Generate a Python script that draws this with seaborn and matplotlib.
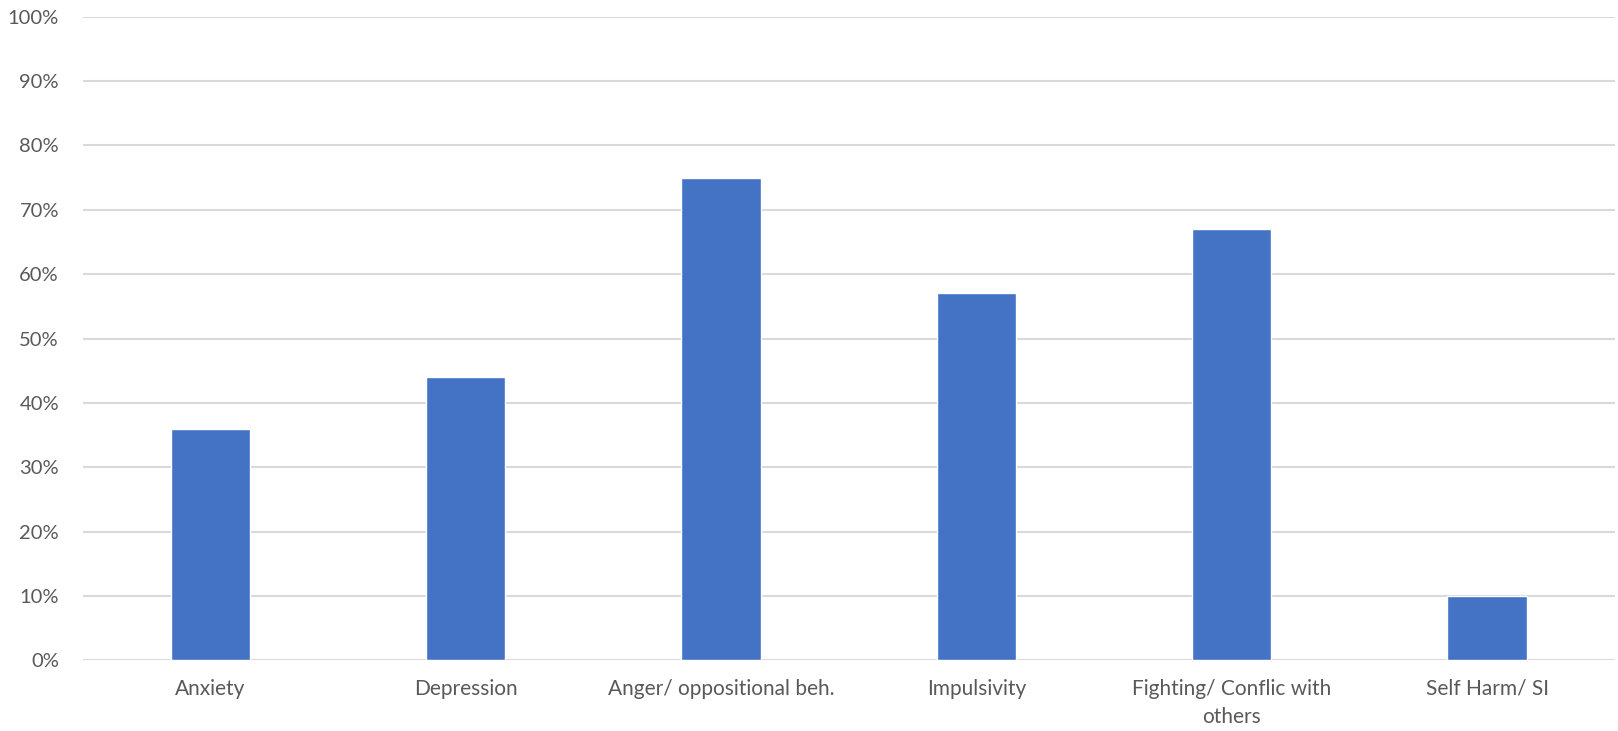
import matplotlib.pyplot as plt
import seaborn as sns
import pandas as pd
from matplotlib.ticker import PercentFormatter

# Datos
categorias = ["Anxiety", "Depression", "Anger/ oppositional beh.", "Impulsivity",
              "Fighting/ Conflic with\nothers", "Self Harm/ SI"]
porcentajes = [36, 44, 75, 57, 67, 10]
yticks = list(range(0, 101, 10))

df = pd.DataFrame({"Categoria": categorias, "Porcentaje": porcentajes})

sns.set_theme(style="white")
plt.rcParams['font.family'] = ['Lato', 'DejaVu Sans']

fig = plt.figure(figsize=(16.18, 7.31), dpi=100)
ax = fig.add_axes([0.051, 0.0965, 0.947, 0.8808])

sns.barplot(data=df, x="Categoria", y="Porcentaje", color="#4472C4",
            saturation=1, width=0.31, ax=ax, zorder=3)

ax.set_ylim(0, 100)
ax.set_yticks(yticks)
ax.yaxis.set_major_formatter(PercentFormatter(decimals=0))
ax.set_xlim(-0.5, len(categorias) - 0.5)
ax.grid(axis="y", color="#D9D9D9", linewidth=1.5, zorder=0)
ax.grid(axis="x", visible=False)
for s in ax.spines.values():
    s.set_visible(False)

ax.set_xlabel("")
ax.set_ylabel("")
ax.tick_params(axis="y", length=0, pad=17, labelsize=14.5, labelcolor="#595959")
ax.tick_params(axis="x", length=0, pad=13, labelsize=15, labelcolor="#595959")
for lbl in ax.get_xticklabels():
    lbl.set_linespacing(1.5)
    lbl.set_verticalalignment("top")

fig.savefig("out.png", dpi=100)
